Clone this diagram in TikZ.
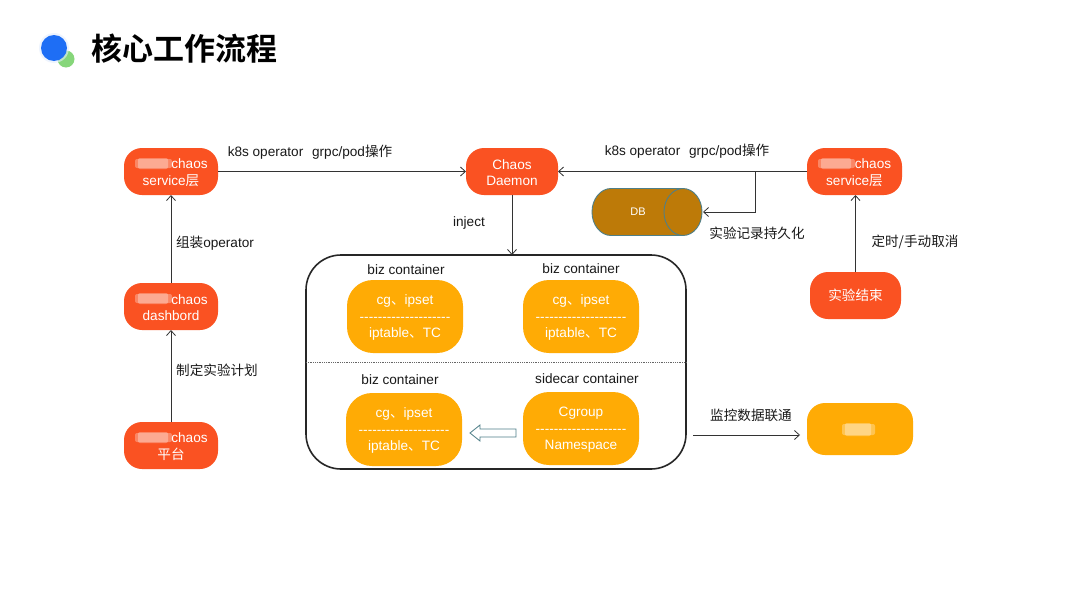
\documentclass[tikz,border=0pt]{standalone}
\usepackage{fontspec}
\setmainfont{Liberation Sans}
\newfontfamily\cjkf[BoldFont={Noto Sans CJK SC Bold}]{Noto Sans CJK SC}
\newcommand{\zh}[1]{{\cjkf #1}}
\newcommand{\dl}{-{}-{}-{}-{}-{}-{}-{}-{}-{}-{}-{}-{}-{}-{}-{}-{}-{}-{}-{}-}
\newcommand{\fs}{\rule{0pt}{12pt}}
\usetikzlibrary{arrows.meta}
\definecolor{orangebox}{HTML}{FA5222}
\definecolor{yellowbox}{HTML}{FFAB05}
\definecolor{dbfill}{HTML}{BD7A08}
\definecolor{dbline}{HTML}{4F7F88}
\definecolor{linec}{HTML}{333333}
\definecolor{blueball}{HTML}{1E6EF5}
\definecolor{greenball}{HTML}{86D67A}
\tikzset{
  every node/.style={font=\fontsize{13.6}{16.5}\selectfont, inner sep=0pt, outer sep=0pt},
  obox/.style={fill=orangebox, text=white, rounded corners=18pt, minimum width=94pt, minimum height=47pt, align=center},
  ybox/.style={fill=yellowbox, text=white, rounded corners=26pt, minimum width=116pt, minimum height=73pt, align=center},
  lab/.style={text=black!90, anchor=center},
  conn/.style={draw=linec, line width=0.8pt, -{Straight Barb[length=5pt,width=9pt]}},
  patch/.style={fill=white, fill opacity=0.3, rounded corners=2pt},
}
\begin{document}
\begin{tikzpicture}[x=1pt,y=-1pt]
\useasboundingbox (0,0) rectangle (1080,608);
\fill[white] (0,0) rectangle (1080,608);
% header
\fill[greenball] (66,59) circle (8.5);
\fill[blueball!12, fill opacity=0.6] (54,48) circle (15);
\fill[blueball] (54,48) circle (13);
\node (title) at (184.5,49) {\fontsize{31}{34}\selectfont\cjkf\bfseries 核心工作流程};
% nodes
\node[obox] (svcL) at (171,171.5) {\fs\hspace{37pt}chaos\\service\zh{层}};
\node[obox, minimum width=92pt] (daemon) at (512,171.5) {\fs Chaos\\Daemon};
\node[obox, minimum width=95pt] (svcR) at (854.5,171.5) {\fs\hspace{37pt}chaos\\service\zh{层}};
\node[obox] (dash) at (171,306.5) {\fs\hspace{37pt}chaos\\dashbord};
\node[obox] (plat) at (171,445.5) {\fs\hspace{37pt}chaos\\\zh{平台}};
\node[obox, minimum width=91pt] (end) at (855.5,295.5) {\zh{实验结束}};
% DB cylinder
\path[fill=dbfill, draw=dbline, line width=0.9pt]
  (611,188.5) -- (683,188.5) .. controls (693.5,188.5) and (702,199) .. (702,212)
  .. controls (702,225) and (693.5,235.5) .. (683,235.5) -- (611,235.5)
  .. controls (600.5,235.5) and (592,225) .. (592,212)
  .. controls (592,199) and (600.5,188.5) .. (611,188.5) -- cycle;
\draw[dbline, line width=0.9pt] (683,188.5) .. controls (672.5,188.5) and (664,199) .. (664,212)
  .. controls (664,225) and (672.5,235.5) .. (683,235.5);
\node[text=white, font=\fontsize{11}{13}\selectfont] (db) at (638,212) {DB};
% container
\node[draw=black!85, line width=1.6pt, rounded corners=35pt, minimum width=380pt, minimum height=214pt] (pod) at (496,362) {};
\coordinate (sepL) at (pod.west);
\coordinate (sepR) at (pod.east);
\draw[black!60, line width=0.8pt, densely dotted] (sepL) -- (sepR);
\node[ybox] (y1) at (405,316.5) {\fs cg\zh{、}ipset\\\dl\\iptable\zh{、}TC};
\node[ybox] (y2) at (581,316.5) {\fs cg\zh{、}ipset\\\dl\\iptable\zh{、}TC};
\node[ybox] (y3) at (404,429.5) {\fs cg\zh{、}ipset\\\dl\\iptable\zh{、}TC};
\node[ybox] (y4) at (581,428.5) {\fs Cgroup\\\dl\\Namespace};
\node[lab] (l1) at (406,270) {biz container};
\node[lab] (l2) at (581,269) {biz container};
\node[lab] (l3) at (400,380) {biz container};
\node[lab] (l4) at (587,378.5) {sidecar container};
\node[fill=yellowbox, rounded corners=18pt, minimum width=106pt, minimum height=52pt] (mon) at (860,429) {};
% hollow arrow
\draw[dbline, fill=white, line width=0.8pt] (470,433) -- (480,425) -- (480,429) -- (516,429) -- (516,437) -- (480,437) -- (480,441) -- cycle;
% blurred patches
\foreach \a/\b in {135/159,135/294,135/433,818/159}{
  \fill[patch] (\a,\b) rectangle ++(37,9);
  \fill[patch] (\a+3,\b-1) rectangle ++(30,11);
}
\fill[patch] (842,424) rectangle ++(33,11);
\fill[patch] (845,423) rectangle ++(26,13);
% connectors
\draw[conn] (svcL) -- (daemon);
\draw[conn] (svcR) -- (daemon);
\coordinate (br) at (755,171.5);
\coordinate (brd) at (755,212);
\coordinate (dbr) at (703,212);
\draw[conn] (br) -- (brd) -- (dbr);
\draw[conn] (dash) -- (svcL);
\draw[conn] (plat) -- (dash);
\draw[conn] (end) -- (svcR.south -| end);
\coordinate (podTop) at (512,255);
\draw[conn] (daemon) -- (podTop);
\coordinate (monStart) at (693,435);
\coordinate (monEnd) at (800,435);
\draw[conn] (monStart) -- (monEnd);
% labels
\node[lab] (t1) at (310,152) {k8s operator\hspace{5pt} grpc/pod\zh{操作}};
\node[lab] (t2) at (687,151) {k8s operator\hspace{5pt} grpc/pod\zh{操作}};
\node[lab] (t3) at (469,223) {inject};
\node[lab] (t4) at (215,243) {\zh{组装}operator};
\node[lab] (t5) at (217,370) {\zh{制定实验计划}};
\node[lab] (t6) at (757,233) {\zh{实验记录持久化}};
\node[lab] (t7) at (915,242) {\zh{定时/手动取消}};
\node[lab] (t8) at (751,415) {\zh{监控数据联通}};
\end{tikzpicture}
\end{document}
